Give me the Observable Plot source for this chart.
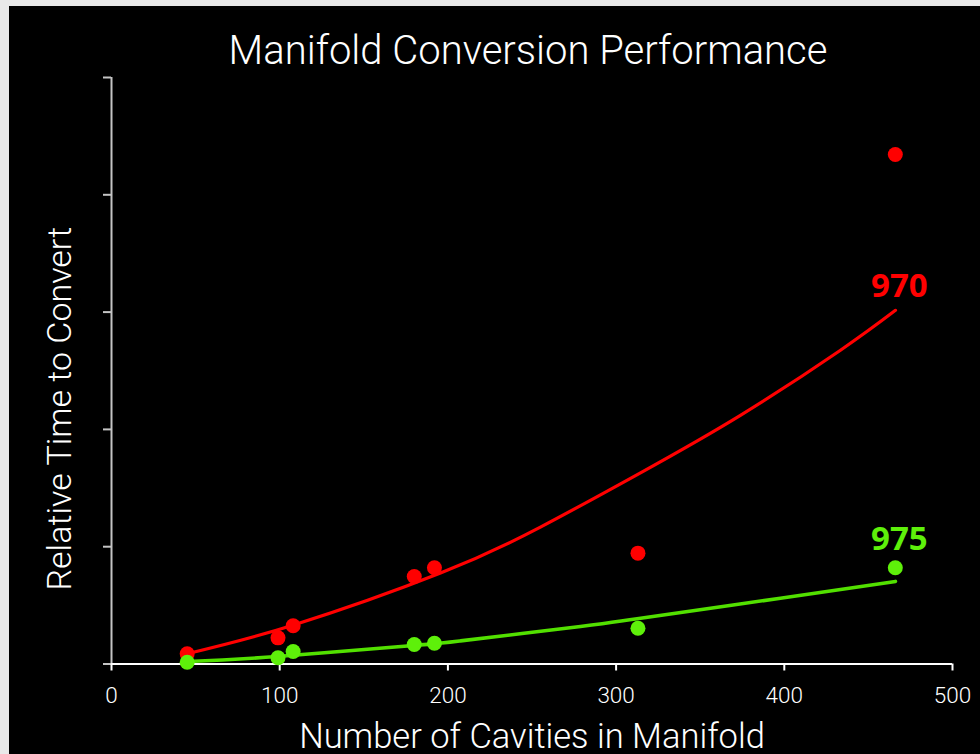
<!DOCTYPE html>
<html>
<head>
<meta charset="utf-8">
<script src="https://cdn.jsdelivr.net/npm/d3@7"></script>
<script src="https://cdn.jsdelivr.net/npm/@observablehq/plot@0.6"></script>
<style>
  html, body { margin: 0; padding: 0; background: #e9e9e9; width: 980px; height: 754px; overflow: hidden; }
  #chart { position: absolute; left: 9px; top: 6px; }
</style>
</head>
<body>
<div id="chart"></div>
<script>
// Data
const cavities = [45, 99, 108, 180, 192, 313, 466];
const time970 = [0.087, 0.223, 0.326, 0.746, 0.821, 0.945, 4.343];
const time975 = [0.015, 0.053, 0.107, 0.166, 0.177, 0.305, 0.821];

// Trend lines
const trendX970 = [45.6, 107.8, 195.6, 255, 314.5, 373.9, 433.4, 466.1];
const trendY970 = [0.09, 0.33, 0.775, 1.167, 1.63, 2.12, 2.675, 3.015];
const trendX975 = [45.6, 98.7, 179.5, 207.5, 278.8, 312.5, 397.7, 466.1];
const trendY975 = [0.021, 0.064, 0.158, 0.197, 0.32, 0.386, 0.561, 0.704];

// Series labels
const seriesNames = ["970", "975"];
const labelX = [468.4, 468.4];
const labelY = [3.126, 0.968];

const xTicks = [0, 100, 200, 300, 400, 500];
const yTicks = [0, 1, 2, 3, 4, 5];

const titleText = "Manifold Conversion Performance";
const xLabel = "Number of Cavities in Manifold";
const yLabel = "Relative Time to Convert";

const RED = "#ff0000";
const GREEN = "#5ef00a";
const GREEN_LINE = "#52e000";

const pts970 = cavities.map((c, i) => ({x: c, y: time970[i]}));
const pts975 = cavities.map((c, i) => ({x: c, y: time975[i]}));
const tr970 = trendX970.map((c, i) => ({x: c, y: trendY970[i]}));
const tr975 = trendX975.map((c, i) => ({x: c, y: trendY975[i]}));
const labels = seriesNames.map((s, i) => ({name: s, x: labelX[i], y: labelY[i], color: i === 0 ? RED : GREEN}));

const chart = Plot.plot({
  width: 971,
  height: 748,
  marginLeft: 102,
  marginRight: 28,
  marginTop: 71,
  marginBottom: 90.5,
  style: {background: "black", color: "white", fontFamily: "Roboto, 'Liberation Sans', sans-serif", overflow: "visible"},
  x: {domain: [0, 500]},
  y: {domain: [0, 5]},
  marks: [
    Plot.axisY({ticks: yTicks, tickSize: 8, tickFormat: () => "", label: null, stroke: "#c4c4c4", strokeWidth: 2}),
    Plot.axisX({ticks: xTicks, tickSize: 7, tickPadding: 16, fontSize: 22.5, fontWeight: 300, label: null, stroke: "white", strokeWidth: 2, fill: "white"}),
    Plot.ruleX([0], {y1: 0, y2: 5, stroke: "#c4c4c4", strokeWidth: 2}),
    Plot.ruleY([0], {stroke: "white", strokeWidth: 2}),
    Plot.line(tr970, {x: "x", y: "y", stroke: RED, strokeWidth: 3.2, curve: "natural"}),
    Plot.line(tr975, {x: "x", y: "y", stroke: GREEN_LINE, strokeWidth: 3.6, curve: "natural"}),
    Plot.dot(pts970, {x: "x", y: "y", r: 7.5, fill: RED}),
    Plot.dot(pts975, {x: "x", y: "y", r: 7.5, fill: GREEN}),
    Plot.text(labels, {x: "x", y: "y", text: "name", fill: "color", fontSize: 33, fontWeight: "bold", fontFamily: "'Open Sans', sans-serif", lineAnchor: "bottom"}),
    Plot.text([titleText], {frameAnchor: "top", lineAnchor: "bottom", dx: -4, dy: -14, fontSize: 40, fontWeight: 300, fill: "white"}),
    Plot.text([xLabel], {frameAnchor: "bottom", textAnchor: "middle", lineAnchor: "bottom", dy: 84, fontSize: 34.5, fontWeight: 300, fill: "white"}),
    Plot.text([yLabel], {frameAnchor: "left", textAnchor: "middle", lineAnchor: "bottom", rotate: -90, dx: -41, dy: 38, fontSize: 34, fontWeight: 300, fill: "white"})
  ]
});
document.getElementById("chart").appendChild(chart);
</script>
</body>
</html>
